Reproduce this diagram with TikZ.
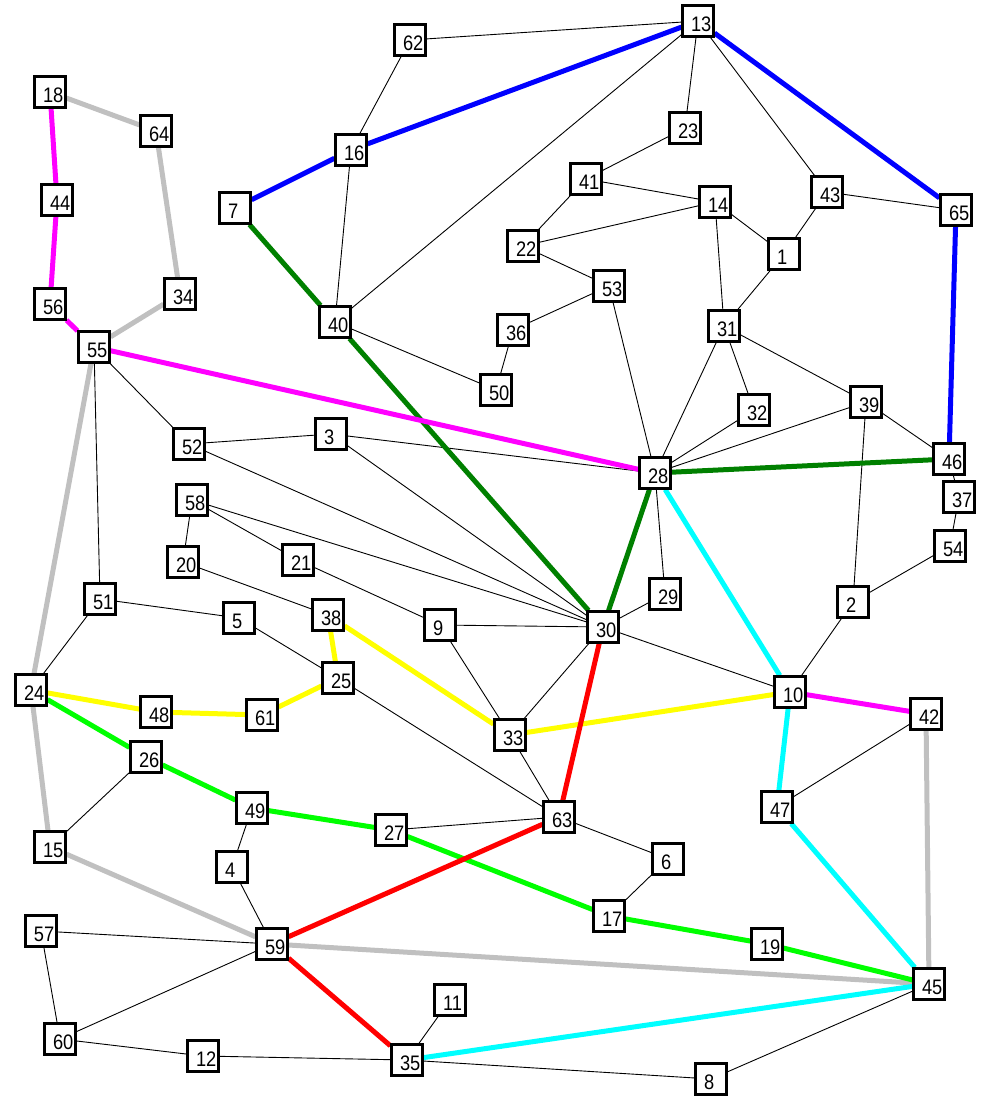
\documentclass[tikz,border=0pt]{standalone}
\usepackage{fontspec}
\setmainfont{Liberation Sans}[FakeStretch=0.87]
\pgfdeclarelayer{edges}
\pgfsetlayers{edges,main}
\newcommand{\nlab}[1]{\hspace*{7pt}\makebox[21pt][l]{#1}}
\definecolor{cblue}{RGB}{0,0,255}
\definecolor{cdgreen}{RGB}{0,128,0}
\definecolor{cmag}{RGB}{255,0,255}
\definecolor{cgray}{RGB}{192,192,192}
\definecolor{cyel}{RGB}{255,255,0}
\definecolor{clime}{RGB}{0,255,0}
\definecolor{cred}{RGB}{255,0,0}
\definecolor{ccyan}{RGB}{0,255,255}
\tikzset{
  box/.style={draw, line width=2.6pt, fill=white, minimum size=30.5pt, inner sep=0pt,
    text height=20pt, text depth=0pt, font=\fontsize{21}{21}\selectfont},
  thinedge/.style={line width=0.9pt, black},
  route/.style={line width=5pt, draw=#1}
}
\begin{document}
\begin{tikzpicture}[x=1pt,y=-1pt]
\useasboundingbox (0,0) rectangle (982,1098);
\node[box] (n18) at (50,92) {\nlab{18}};
\node[box] (n64) at (156,131) {\nlab{64}};
\node[box] (n44) at (57,200) {\nlab{44}};
\node[box] (n7) at (235,208) {\nlab{7}};
\node[box] (n62) at (410,40) {\nlab{62}};
\node[box] (n16) at (351,150) {\nlab{16}};
\node[box] (n41) at (586,179) {\nlab{41}};
\node[box] (n22) at (523,246) {\nlab{22}};
\node[box] (n13) at (698,21) {\nlab{13}};
\node[box] (n23) at (685,128) {\nlab{23}};
\node[box] (n43) at (827,192) {\nlab{43}};
\node[box] (n14) at (715,202) {\nlab{14}};
\node[box] (n65) at (956,210) {\nlab{65}};
\node[box] (n1) at (784,254) {\nlab{1}};
\node[box] (n56) at (50,304) {\nlab{56}};
\node[box] (n34) at (180,294) {\nlab{34}};
\node[box] (n55) at (94,347) {\nlab{55}};
\node[box] (n52) at (189,444) {\nlab{52}};
\node[box] (n3) at (331,434) {\nlab{3}};
\node[box] (n58) at (192,500) {\nlab{58}};
\node[box] (n40) at (335,322) {\nlab{40}};
\node[box] (n53) at (609,286) {\nlab{53}};
\node[box] (n36) at (513,330) {\nlab{36}};
\node[box] (n50) at (496,390) {\nlab{50}};
\node[box] (n28) at (655,473) {\nlab{28}};
\node[box] (n31) at (724,326) {\nlab{31}};
\node[box] (n32) at (754,410) {\nlab{32}};
\node[box] (n39) at (866,402) {\nlab{39}};
\node[box] (n46) at (949,459) {\nlab{46}};
\node[box] (n37) at (959,497) {\nlab{37}};
\node[box] (n54) at (950,546) {\nlab{54}};
\node[box] (n20) at (183,562) {\nlab{20}};
\node[box] (n21) at (298,560) {\nlab{21}};
\node[box] (n51) at (100,599) {\nlab{51}};
\node[box] (n5) at (239,618) {\nlab{5}};
\node[box] (n38) at (328,615) {\nlab{38}};
\node[box] (n24) at (31,690) {\nlab{24}};
\node[box] (n48) at (156,712) {\nlab{48}};
\node[box] (n61) at (262,715) {\nlab{61}};
\node[box] (n25) at (338,678) {\nlab{25}};
\node[box] (n26) at (146,757) {\nlab{26}};
\node[box] (n49) at (252,808) {\nlab{49}};
\node[box] (n9) at (440,625) {\nlab{9}};
\node[box] (n30) at (603,627) {\nlab{30}};
\node[box] (n33) at (510,735) {\nlab{33}};
\node[box] (n29) at (665,594) {\nlab{29}};
\node[box] (n2) at (853,602) {\nlab{2}};
\node[box] (n10) at (790,692) {\nlab{10}};
\node[box] (n42) at (926,714) {\nlab{42}};
\node[box] (n47) at (777,807) {\nlab{47}};
\node[box] (n15) at (50,847) {\nlab{15}};
\node[box] (n4) at (232,867) {\nlab{4}};
\node[box] (n57) at (41,931) {\nlab{57}};
\node[box] (n59) at (272,944) {\nlab{59}};
\node[box] (n60) at (60,1039) {\nlab{60}};
\node[box] (n12) at (203,1056) {\nlab{12}};
\node[box] (n27) at (391,830) {\nlab{27}};
\node[box] (n63) at (559,817) {\nlab{63}};
\node[box] (n17) at (609,916) {\nlab{17}};
\node[box] (n11) at (450,1000) {\nlab{11}};
\node[box] (n35) at (407,1060) {\nlab{35}};
\node[box] (n6) at (668,859) {\nlab{6}};
\node[box] (n19) at (767,944) {\nlab{19}};
\node[box] (n45) at (929,984) {\nlab{45}};
\node[box] (n8) at (711,1079) {\nlab{8}};
\begin{pgfonlayer}{edges}
\foreach \a/\b in {62/13,62/16,16/40,40/13,13/23,13/43,23/41,41/14,41/22,22/14,22/53,
  14/1,14/31,43/1,43/65,1/31,53/36,53/28,36/50,40/50,31/28,31/32,31/39,32/28,39/28,
  39/46,39/2,46/37,37/54,54/2,2/10,55/52,55/51,52/3,3/28,52/30,3/30,58/20,58/30,58/21,
  21/9,20/38,9/30,9/33,33/30,33/63,25/63,51/5,5/25,51/24,28/29,29/30,30/10,63/27,63/6,
  6/17,26/15,49/4,4/59,57/59,57/60,60/59,60/12,12/35,35/11,35/8,8/45,42/47}
  \draw[thinedge] (n\a) -- (n\b);
\draw[route=cblue] (n7) -- (n16) -- (n13) -- (n65) -- (n46);
\draw[route=cdgreen] (n7) -- (n40) -- (n30) -- (n28) -- (n46);
\draw[route=cmag] (n18) -- (n44) -- (n56) -- (n55) -- (n28);
\draw[route=cmag] (n10) -- (n42);
\draw[route=cgray] (n18) -- (n64) -- (n34) -- (n55) -- (n24) -- (n15) -- (n59) -- (n45) -- (n42);
\draw[route=cyel] (n24) -- (n48) -- (n61) -- (n25) -- (n38) -- (n33) -- (n10);
\draw[route=clime] (n24) -- (n26) -- (n49) -- (n27) -- (n17) -- (n19) -- (n45);
\draw[route=cred] (n30) -- (n63) -- (n59) -- (n35);
\draw[route=ccyan] (n28) -- (n10) -- (n47) -- (n45) -- (n35);
\end{pgfonlayer}
\end{tikzpicture}
\end{document}
